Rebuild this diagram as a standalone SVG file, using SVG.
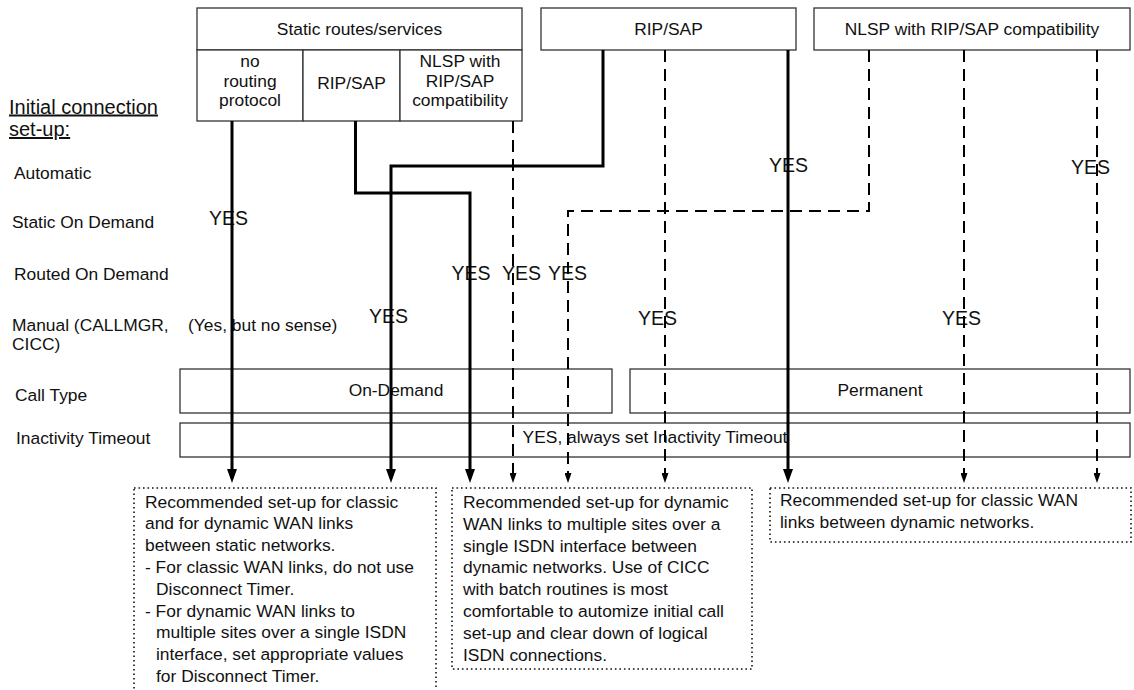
<svg xmlns="http://www.w3.org/2000/svg" width="1134" height="690" viewBox="0 0 1134 690">
<style>
  text { font-family: "Liberation Sans", Arial, sans-serif; font-size: 17.4px; fill: #111; }
  .c { text-anchor: middle; }
  .yes { font-size: 19.5px; }
  .box { fill: #fff; stroke: #333; stroke-width: 1.3; }
  .note { fill: #fff; stroke: #111; stroke-width: 1.6; stroke-dasharray: 1.6 2.9; }
  .solid { fill: none; stroke: #000; stroke-width: 3; }
  .dash { fill: none; stroke: #000; stroke-width: 2; stroke-dasharray: 12 7; }
</style>
<defs>
  <marker id="arS" markerUnits="userSpaceOnUse" markerWidth="10" markerHeight="14" viewBox="0 0 10 14" refX="5" refY="0" orient="0">
    <path d="M0,0 L10,0 L5,14 z" fill="#000"/>
  </marker>
  <marker id="arD" markerUnits="userSpaceOnUse" markerWidth="7" markerHeight="10" viewBox="0 0 7 10" refX="3.5" refY="0" orient="0">
    <path d="M0,0 L7,0 L3.5,10 z" fill="#000"/>
  </marker>
</defs>
<rect width="1134" height="690" fill="#fff"/>

<g id="header-static">
  <rect class="box" x="197" y="8" width="325" height="42"/>
  <text class="c" x="359.5" y="35">Static routes/services</text>
</g>
<g id="static-none">
  <rect class="box" x="197" y="50" width="106" height="71"/>
  <text class="c" x="250" y="67">no</text>
  <text class="c" x="250" y="86.5">routing</text>
  <text class="c" x="250" y="106">protocol</text>
</g>
<g id="static-rip">
  <rect class="box" x="303" y="50" width="97" height="71"/>
  <text class="c" x="351.5" y="89">RIP/SAP</text>
</g>
<g id="static-nlsp">
  <rect class="box" x="400" y="50" width="122" height="71"/>
  <text class="c" x="460" y="67">NLSP with</text>
  <text class="c" x="460" y="86.5">RIP/SAP</text>
  <text class="c" x="460" y="106">compatibility</text>
</g>
<g id="header-rip">
  <rect class="box" x="541" y="8" width="255" height="42"/>
  <text class="c" x="668.5" y="35">RIP/SAP</text>
</g>
<g id="header-nlsp">
  <rect class="box" x="814" y="8" width="316" height="42"/>
  <text class="c" x="972" y="35">NLSP with RIP/SAP compatibility</text>
</g>

<g id="row-labels">
  <text x="9" y="113.5" style="font-size:20px" text-decoration="underline">Initial connection</text>
  <text x="9" y="136" style="font-size:20px" text-decoration="underline">set-up:</text>
  <text x="14" y="178.5">Automatic</text>
  <text x="12" y="228">Static On Demand</text>
  <text x="14" y="280">Routed On Demand</text>
  <text x="12" y="331">Manual (CALLMGR,</text>
  <text x="12" y="350">CICC)</text>
  <text x="15" y="401">Call Type</text>
  <text x="16" y="444">Inactivity Timeout</text>
  <text x="188" y="331">(Yes, but no sense)</text>
</g>

<g id="yes-marks">
  <text class="yes" x="209" y="224.5">YES</text>
  <text class="yes" x="369" y="323">YES</text>
  <text class="yes" x="451.5" y="280">YES</text>
  <text class="yes" x="502" y="280">YES</text>
  <text class="yes" x="548" y="280">YES</text>
  <text class="yes" x="638" y="325">YES</text>
  <text class="yes" x="769" y="172">YES</text>
  <text class="yes" x="942" y="325">YES</text>
  <text class="yes" x="1071" y="174">YES</text>
</g>

<g id="calltype-ondemand">
  <rect class="box" x="180" y="369" width="432" height="44"/>
  <text class="c" x="396" y="396">On-Demand</text>
</g>
<g id="calltype-permanent">
  <rect class="box" x="630" y="369" width="500" height="44"/>
  <text class="c" x="880" y="396">Permanent</text>
</g>
<g id="inactivity">
  <rect class="box" x="180" y="423" width="950" height="34"/>
  <text class="c" x="655" y="443">YES, always set Inactivity Timeout</text>
</g>

<g id="note-static">
  <rect class="note" x="134" y="488" width="302" height="210"/>
  <text x="145" y="507.5">Recommended set-up for classic</text>
  <text x="145" y="529.3">and for dynamic WAN links</text>
  <text x="145" y="551.1">between static networks.</text>
  <text x="145" y="572.9">- For classic WAN links, do not use</text>
  <text x="156" y="594.7">Disconnect Timer.</text>
  <text x="145" y="616.5">- For dynamic WAN links to</text>
  <text x="156" y="638.3">multiple sites over a single ISDN</text>
  <text x="156" y="660.1">interface, set appropriate values</text>
  <text x="156" y="681.9">for Disconnect Timer.</text>
</g>
<g id="note-dynamic-multi">
  <rect class="note" x="452" y="488" width="300" height="181"/>
  <text x="463" y="508">Recommended set-up for dynamic</text>
  <text x="463" y="529.8">WAN links to multiple sites over a</text>
  <text x="463" y="551.6">single ISDN interface between</text>
  <text x="463" y="573.4">dynamic networks. Use of CICC</text>
  <text x="463" y="595.2">with batch routines is most</text>
  <text x="463" y="617">comfortable to automize initial call</text>
  <text x="463" y="638.8">set-up and clear down of logical</text>
  <text x="463" y="660.6">ISDN connections.</text>
</g>
<g id="note-dynamic-classic">
  <rect class="note" x="770" y="488" width="361" height="54"/>
  <text x="780" y="506">Recommended set-up for classic WAN</text>
  <text x="780" y="527.5">links between dynamic networks.</text>
</g>

<g id="connectors">
  <path class="solid" d="M232,121 V469" marker-end="url(#arS)"/>
  <path class="solid" d="M355.5,121 V193 H470 V469" marker-end="url(#arS)"/>
  <path class="solid" d="M603,50 V166 H391 V469" marker-end="url(#arS)"/>
  <path class="solid" d="M788,50 V469" marker-end="url(#arS)"/>
  <path class="dash" d="M513,121 V473" marker-end="url(#arD)"/>
  <path class="dash" d="M869,50 V211 H568 V473" marker-end="url(#arD)"/>
  <path class="dash" d="M665,50 V473" marker-end="url(#arD)"/>
  <path class="dash" d="M964,50 V473" marker-end="url(#arD)"/>
  <path class="dash" d="M1097,50 V473" marker-end="url(#arD)"/>
</g>
</svg>
